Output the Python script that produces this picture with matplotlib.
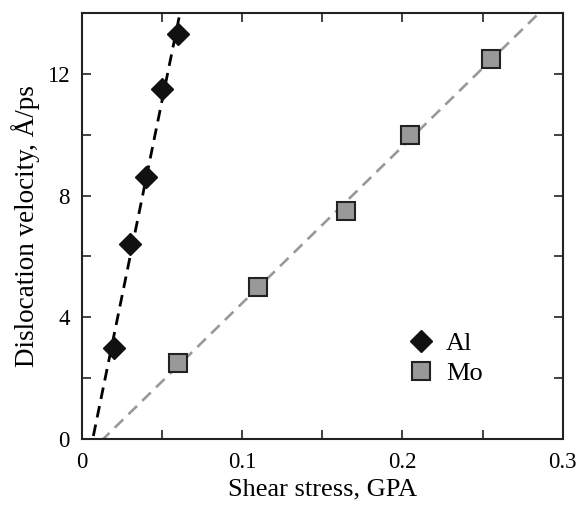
import numpy as np
import matplotlib
matplotlib.use("Agg")
import matplotlib.pyplot as plt
from matplotlib.ticker import MultipleLocator

# Dislocation velocity vs. shear stress
al_stress = [0.02, 0.03, 0.04, 0.05, 0.06]
al_velocity = [3.0, 6.4, 8.6, 11.5, 13.3]
mo_stress = [0.06, 0.11, 0.165, 0.205, 0.255]
mo_velocity = [2.5, 5.0, 7.5, 10.0, 12.5]
x_ticks = [0, 0.1, 0.2, 0.3]
x_ticklabels = ["0", "0.1", "0.2", "0.3"]
y_ticks = [0, 4, 8, 12]

plt.rcParams["font.family"] = ["Liberation Serif", "DejaVu Serif"]

fig = plt.figure(figsize=(5.8, 5.09), dpi=100)
ax = fig.add_axes([0.1414, 0.1375, 0.8286, 0.837])

xmin, xmax, ymin, ymax = 0, 0.3, 0, 14

# linear fits through each data set
def fit_line(x, y):
    k, b = np.polyfit(x, y, 1)
    xs = np.array([-b / k - 0.01, (ymax - b) / k + 0.01])
    return xs, k * xs + b

xs, ys = fit_line(al_stress, al_velocity)
ax.plot(xs, ys, color="black", lw=2.0, dashes=(4.2, 2.6), zorder=2)
xs, ys = fit_line(mo_stress, mo_velocity)
ax.plot(xs, ys, color="#999999", lw=1.9, dashes=(4.5, 2.8), zorder=2)

ax.plot(al_stress, al_velocity, ls="none", marker="D", ms=11.5,
        mfc="#111111", mec="#111111", mew=1.0, label="Al", zorder=3)
ax.plot(mo_stress, mo_velocity, ls="none", marker="s", ms=12.5,
        mfc="#999999", mec="#222222", mew=1.5, label="Mo", zorder=3)

ax.set_xlim(xmin, xmax)
ax.set_ylim(ymin, ymax)
ax.set_xticks(x_ticks)
ax.set_xticklabels(x_ticklabels)
ax.set_yticks(y_ticks)
ax.xaxis.set_minor_locator(MultipleLocator(0.05))
ax.yaxis.set_minor_locator(MultipleLocator(2))

for s in ax.spines.values():
    s.set_linewidth(1.5)
    s.set_color("#222222")

ax.tick_params(which="both", direction="in", top=True, right=True,
               length=6.5, width=1.2, color="#222222",
               labelsize=16.5)
ax.tick_params(axis="x", pad=9)
ax.tick_params(axis="y", pad=9)

ax.set_xlabel("Shear stress, GPA", fontsize=19, labelpad=4)
ax.set_ylabel("Dislocation velocity, Å/ps", fontsize=19.5, labelpad=5)

ax.legend(loc="center left", bbox_to_anchor=(0.678, 0.19), frameon=False,
          fontsize=19, handlelength=1.0, handletextpad=0.45,
          labelspacing=0.25, borderaxespad=0, borderpad=0)

fig.savefig("out.png", dpi=100)
